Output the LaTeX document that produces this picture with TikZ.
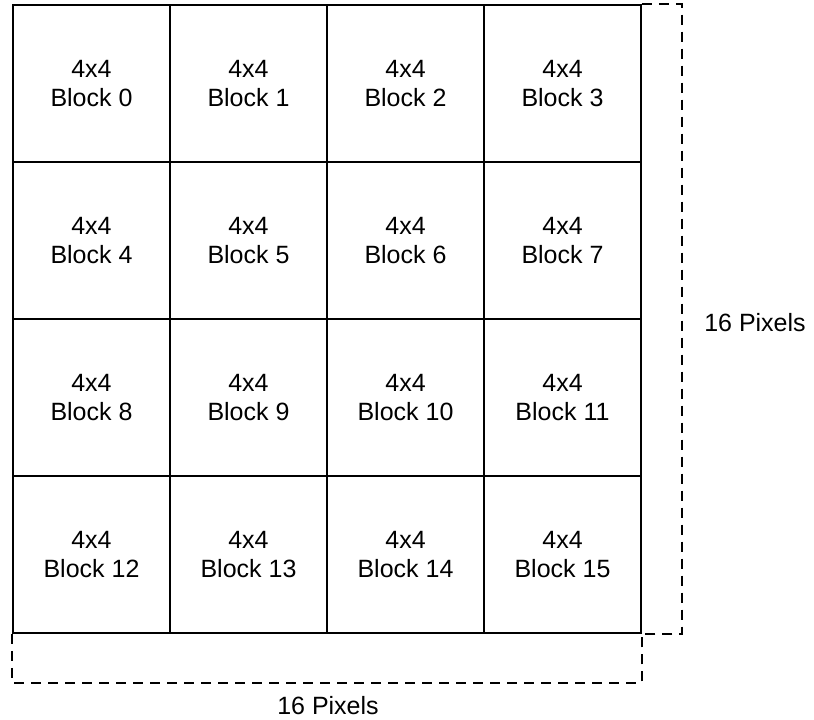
\documentclass[tikz,border=0pt]{standalone}
\usepackage{fontspec}
\setmainfont{Liberation Sans}
\usetikzlibrary{calc}
\tikzset{
  blockcell/.style={
    draw,
    line width=0.8pt,
    minimum size=78.5pt,
    inner sep=0pt,
    align=center,
    font=\fontsize{12.5}{14.7}\selectfont
  },
  sizebracket/.style={
    line width=0.9pt,
    dash pattern=on 5pt off 3.5pt
  },
  sizelabel/.style={font=\fontsize{12.5}{14.7}\selectfont}
}
\begin{document}
\begin{tikzpicture}[x=0.5pt,y=-0.5pt]

  \path[use as bounding box] (0,0) rectangle (814,719);

  % blocks<<<
  \foreach \n in {0,...,15}{
    \pgfmathtruncatemacro{\col}{mod(\n,4)}
    \pgfmathtruncatemacro{\row}{div(\n,4)}
    \node[blockcell] (b\n) at ({91.5+157*\col},{83.5+157*\row})
      {4x4\\Block \n};
  }% >>>

  % brackets<<<
  \draw[sizebracket] (b3.north east) -- ++(40.5,0) |- (b15.south east);
  \draw[sizebracket] (b12.south west) -- ++(0,49) -| (b15.south east);

  \node[sizelabel] (heightlabel) at (755,323) {16 Pixels};
  \node[sizelabel] (widthlabel) at (328,706) {16 Pixels};
  % >>>

\end{tikzpicture}
\end{document}
